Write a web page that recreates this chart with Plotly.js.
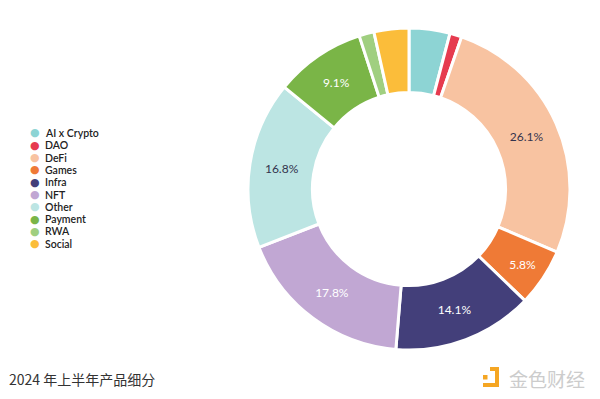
<!DOCTYPE html>
<html><head><meta charset="utf-8">
<script src="https://cdn.plot.ly/plotly-3.0.1.min.js"></script>
<style>html,body{margin:0;padding:0;background:#fff}#c{width:600px;height:399px}</style>
</head><body><div id="c"></div>
<script>
const labels = ['AI x Crypto','DAO','DeFi','Games','Infra','NFT','Other','Payment','RWA','Social'];
const values = [4.1, 1.2, 26.1, 5.8, 14.1, 17.8, 16.8, 9.1, 1.5, 3.5];
const colors = ['#8dd4d4','#e63b4f','#f8c3a1','#ef7a36','#433f7a','#c1a7d3','#bce5e3','#7ab547','#a0cf80','#fbbd3a'];
const textColors = ['#fff','#fff','#33334d','#fff','#fff','#fff','#33334d','#fff','#fff','#fff'];
const showText = [false,false,true,true,true,true,true,true,false,false];
const title = '2024 年上半年产品细分';

const cx = 409, cy = 189, r = 161, W = 600, H = 399;
const pie = {
  type: 'pie', labels: labels, values: values, sort: false, direction: 'clockwise', rotation: 0,
  hole: 0.6,
  marker: {colors: colors, line: {color: '#fff', width: 3}},
  texttemplate: values.map((v, i) => showText[i] ? v.toFixed(1) + '%' : ''),
  textposition: 'inside', insidetextorientation: 'horizontal',
  textfont: {family: 'Lato, sans-serif', size: 12, color: textColors},
  showlegend: false, hoverinfo: 'label+percent',
  domain: {x: [(cx - r) / W, (cx + r) / W], y: [(H - cy - r) / H, (H - cy + r) / H]}
};

const ann = [];
const legTop = 133, legStep = 12.3;
labels.forEach((l, i) => {
  const yy = 1 - (legTop + i * legStep) / H;
  ann.push({xref: 'paper', yref: 'paper', x: 35 / W, y: yy, text: '●', showarrow: false,
    xanchor: 'center', yanchor: 'middle', font: {size: 11, color: colors[i], family: 'DejaVu Sans'}});
  ann.push({xref: 'paper', yref: 'paper', x: 43 / W, y: yy, text: l, showarrow: false,
    xanchor: 'left', yanchor: 'middle', font: {size: 10.5, color: '#222', family: 'Lato, sans-serif', weight: 600}});
});
ann.push({xref: 'paper', yref: 'paper', x: 7 / W, y: 1 - 379 / H, text: title, showarrow: false,
  xanchor: 'left', yanchor: 'middle', font: {size: 14, color: '#333', family: 'Noto Sans CJK SC, sans-serif'}});
ann.push({xref: 'paper', yref: 'paper', x: 507 / W, y: 1 - 378 / H, text: '金色财经', showarrow: false,
  xanchor: 'left', yanchor: 'middle', font: {size: 19, color: '#cccccc', family: 'Noto Sans CJK SC, sans-serif'}});

const px = x => x / W, py = y => 1 - y / H;
const shapes = [
  {type: 'rect', xref: 'paper', yref: 'paper', x0: px(483), x1: px(487.5), y0: py(379.5), y1: py(375), fillcolor: '#f5a623', line: {width: 0}},
  {type: 'path', xref: 'paper', yref: 'paper',
   path: `M ${px(490)} ${py(367)} L ${px(499)} ${py(367)} L ${px(499)} ${py(387)} L ${px(483)} ${py(387)} L ${px(483)} ${py(383)} L ${px(495)} ${py(383)} L ${px(495)} ${py(371)} L ${px(490)} ${py(371)} Z`,
   fillcolor: '#f5a623', line: {width: 0}}
];

Plotly.newPlot('c', [pie], {
  width: W, height: H, margin: {l: 0, r: 0, t: 0, b: 0},
  paper_bgcolor: '#fff', plot_bgcolor: '#fff',
  annotations: ann, shapes: shapes
}, {displayModeBar: false, staticPlot: true});
</script></body></html>
